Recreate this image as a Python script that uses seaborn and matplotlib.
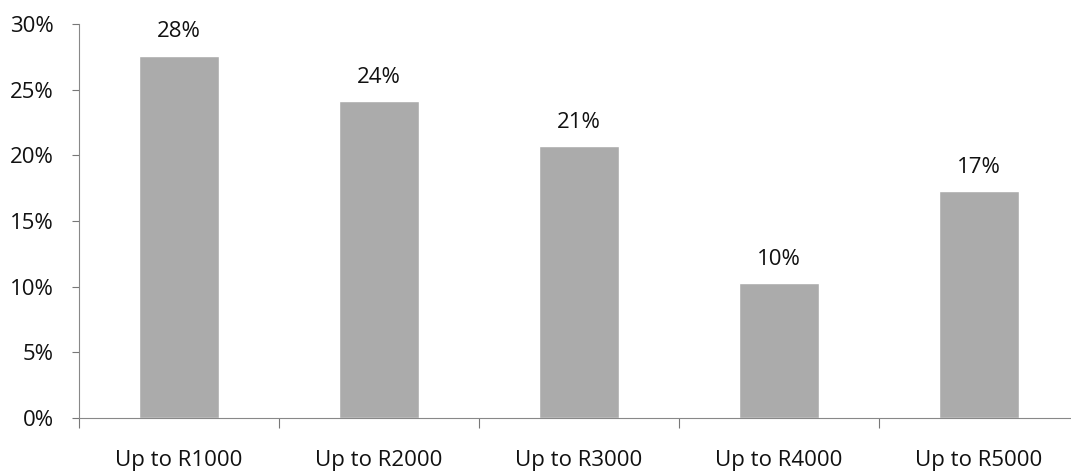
import matplotlib
matplotlib.use("Agg")
import matplotlib.pyplot as plt
import seaborn as sns
import pandas as pd
from matplotlib.ticker import PercentFormatter

# Share of respondents per income bracket (percent)
brackets = ["Up to R1000", "Up to R2000", "Up to R3000", "Up to R4000", "Up to R5000"]
shares = [27.6, 24.1, 20.7, 10.3, 17.3]
y_ticks = [0, 5, 10, 15, 20, 25, 30]

sns.set_theme(style="white")
plt.rcParams["font.family"] = ["Open Sans", "DejaVu Sans"]

df = pd.DataFrame({"bracket": brackets, "share": shares})

fig = plt.figure(figsize=(10.71, 4.75), dpi=100)
ax = fig.add_axes([79 / 1071, 1 - 418 / 475, 1000 / 1071, 394 / 475])

sns.barplot(data=df, x="bracket", y="share", color="#ababab", width=0.4,
            saturation=1, ax=ax)

ax.bar_label(ax.containers[0], fmt="%.0f%%", padding=9.5, fontsize=16,
             color="#111111")

ax.set_xlim(-0.5, 4.5)
ax.set_ylim(0, 30)
ax.set_yticks(y_ticks)
ax.yaxis.set_major_formatter(PercentFormatter(decimals=0))
ax.set_xlabel("")
ax.set_ylabel("")

# category boundary ticks on the x axis
ax.set_xticks([i - 0.5 for i in range(len(brackets))], minor=False)
ax.set_xticklabels([])
ax.set_xticks(range(len(brackets)), minor=True)
ax.set_xticklabels(brackets, minor=True)
ax.tick_params(axis="x", which="major", direction="out", length=7, width=0.8,
               color="#777777", bottom=True)
ax.tick_params(axis="x", which="minor", length=0, pad=23, labelsize=16,
               labelcolor="#111111")
ax.tick_params(axis="y", direction="out", length=5, width=0.8, color="#777777",
               left=True, pad=13, labelsize=16, labelcolor="#111111")

for side in ("top", "right"):
    ax.spines[side].set_visible(False)
for side in ("left", "bottom"):
    ax.spines[side].set_color("#888888")
    ax.spines[side].set_linewidth(0.8)

fig.savefig("out.png", dpi=100)
